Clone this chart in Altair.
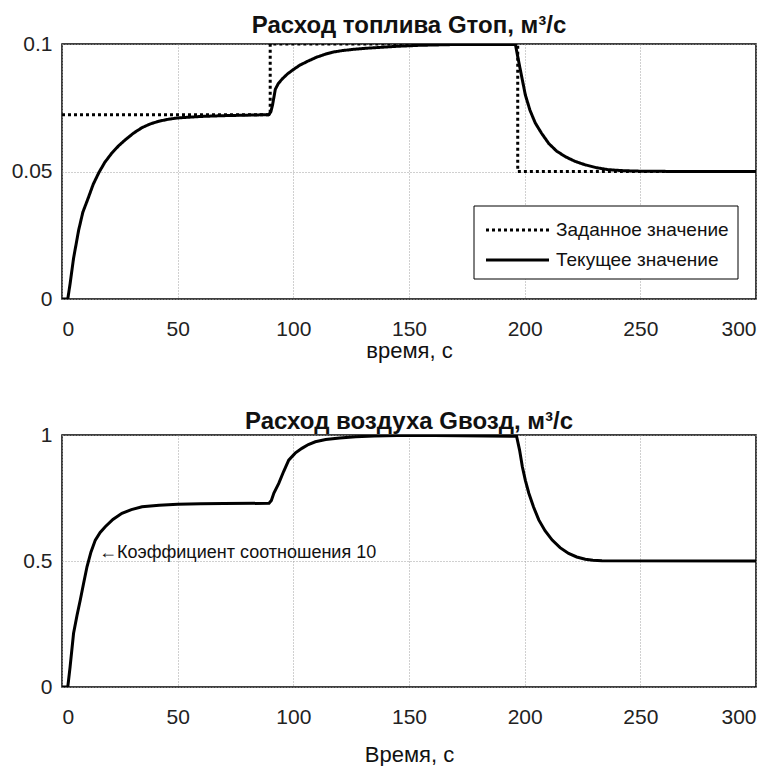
import altair as alt
import pandas as pd

FONT = "Liberation Sans, Arial, sans-serif"

# setpoint (Заданное значение) for fuel flow
t_set = [0, 90, 90, 197, 197, 300]
v_set = [0.0723, 0.0723, 0.1, 0.1, 0.05, 0.05]

# current fuel flow (Текущее значение)
t_fuel = [0, 2.5, 3.5, 5, 7.2, 9, 11.5, 13.5, 15.9, 18.5, 21.6, 24.5, 27.3, 31, 34.6, 38, 41.8, 46, 50,
          55, 60.5, 70, 80, 89.5, 90.3, 91, 92.2, 93.5, 95.1, 97.5, 100.2, 103, 106.6, 110, 113.8, 117,
          121, 126, 131, 138, 145, 155, 170, 196, 196.8, 198.1, 200.3, 202.3, 204.6, 207.3, 210.4,
          213.8, 217.6, 221.7, 226.2, 231, 236.3, 243, 251, 270, 300]
v_fuel = [0, 0, 0.006, 0.016, 0.027, 0.034, 0.040, 0.045, 0.0495, 0.0536, 0.0573, 0.0601, 0.0624, 0.0651,
          0.0672, 0.0686, 0.0697, 0.0705, 0.0710, 0.0713, 0.0716, 0.0719, 0.0721, 0.0723, 0.0735, 0.0760,
          0.0822, 0.0845, 0.0862, 0.0883, 0.0901, 0.0918, 0.0934, 0.0948, 0.0960, 0.0968, 0.0974, 0.0979,
          0.0983, 0.0987, 0.0991, 0.0995, 0.0998, 0.0998, 0.0960, 0.090, 0.080, 0.074, 0.069, 0.065, 0.061,
          0.058, 0.0558, 0.0540, 0.0526, 0.0515, 0.0507, 0.0503, 0.0501, 0.0500, 0.0500]

# air flow (Расход воздуха)
t_air = [0, 2.5, 3.5, 5, 6.5, 7.9, 9.3, 10.8, 12.5, 14.4, 16.5, 18.7, 22, 25.9, 30, 34.6, 42, 50, 60, 70,
         89.5, 90.5, 91.6, 93.7, 95.8, 98, 100.8, 103.7, 106.5, 109.5, 114, 120, 127, 135, 150, 196.5,
         197.8, 199, 200.3, 201.8, 203.8, 206.1, 208.8, 211.9, 215.3, 219, 222.5, 226.2, 229.5, 233.4, 300]
v_air = [0, 0, 0.08, 0.213, 0.285, 0.345, 0.41, 0.477, 0.535, 0.583, 0.613, 0.636, 0.665, 0.689, 0.704,
         0.715, 0.721, 0.725, 0.727, 0.728, 0.729, 0.74, 0.77, 0.808, 0.855, 0.90, 0.928, 0.947, 0.962,
         0.973, 0.982, 0.988, 0.993, 0.996, 0.999, 0.995, 0.94, 0.874, 0.82, 0.769, 0.715, 0.663, 0.62,
         0.583, 0.553, 0.530, 0.516, 0.507, 0.503, 0.501, 0.500]

series_names = ["Заданное значение", "Текущее значение"]
series_dash = [[3, 3], [1, 0]]
x_ticks = [0, 50, 100, 150, 200, 250, 300]
note_text = "←Коэффициент соотношения 10"

df_top = pd.concat([
    pd.DataFrame({"t": t_set, "v": v_set, "s": series_names[0], "i": range(len(t_set))}),
    pd.DataFrame({"t": t_fuel, "v": v_fuel, "s": series_names[1], "i": range(len(t_fuel))}),
])
df_air = pd.DataFrame({"t": t_air, "v": v_air, "i": range(len(t_air))})
df_note = pd.DataFrame({"t": [16], "v": [0.53], "txt": [note_text]})

W, H1, H2 = 694, 255, 252


def xenc(title, pad):
    return alt.X("t:Q", scale=alt.Scale(domain=[0, 300], nice=False),
                 axis=alt.Axis(values=x_ticks, title=title, titlePadding=pad))


lines_top = alt.Chart(df_top).mark_line(clip=True, strokeWidth=3).encode(
    x=xenc("время, с", 1),
    y=alt.Y("v:Q", scale=alt.Scale(domain=[0, 0.1], nice=False),
            axis=alt.Axis(values=[0, 0.05, 0.1], format="~g", title=None)),
    strokeDash=alt.StrokeDash("s:N", scale=alt.Scale(domain=series_names, range=series_dash), legend=None),
    detail="s:N",
    order="i:Q",
    color=alt.value("black"),
)

# legend box (inside the plot, lower right)
one = pd.DataFrame({"a": [0]})
leg_box = alt.Chart(one).mark_rect(fill="white", stroke="black", strokeWidth=1).encode(
    x=alt.value(412), x2=alt.value(676), y=alt.value(162), y2=alt.value(235))
leg_layers = [leg_box]
for k, (name, dash) in enumerate(zip(series_names, series_dash)):
    yy = 186 + 30 * k
    leg_layers.append(alt.Chart(one).mark_rule(strokeWidth=3, strokeDash=dash, color="black").encode(
        x=alt.value(424), x2=alt.value(487), y=alt.value(yy)))
    leg_layers.append(alt.Chart(pd.DataFrame({"txt": [name]})).mark_text(
        align="left", baseline="middle", fontSize=19, font=FONT, color="#111").encode(
        x=alt.value(494), y=alt.value(yy), text="txt:N"))

top = alt.layer(lines_top, *leg_layers).properties(
    width=W, height=H1,
    title=alt.TitleParams("Расход топлива Gтоп, м³/с", fontSize=24, fontWeight="bold",
                          font=FONT, offset=1, dy=6))

bottom_line = alt.Chart(df_air).mark_line(clip=True, strokeWidth=3, color="black").encode(
    x=xenc("Время, с", 17),
    y=alt.Y("v:Q", scale=alt.Scale(domain=[0, 1], nice=False),
            axis=alt.Axis(values=[0, 0.5, 1], format="~g", title=None)),
    order="i:Q",
)
note = alt.Chart(df_note).mark_text(align="left", baseline="middle", fontSize=18, font=FONT,
                                    color="#111").encode(x="t:Q", y="v:Q", text="txt:N")

bottom = alt.layer(bottom_line, note).properties(
    width=W, height=H2,
    title=alt.TitleParams("Расход воздуха Gвозд, м³/с", fontSize=24, fontWeight="bold",
                          font=FONT, offset=4, dy=14))

chart = alt.vconcat(top, bottom, spacing=47).properties(
    padding={"left": 2, "top": 5, "right": 0, "bottom": 0}
).configure_view(stroke="black", strokeWidth=1.5).configure_axis(
    grid=True, gridDash=[1, 2], gridColor="#a0a0a0", gridWidth=1,
    domain=False, ticks=False,
    labelFont=FONT, labelFontSize=21, labelColor="#222", labelPadding=19,
    titleFont=FONT, titleFontSize=22, titleFontWeight="normal", titleColor="#111",
).configure_axisY(labelPadding=10, minExtent=50, maxExtent=50).configure_title(color="#111")

chart.save("out.html", embed_options={"renderer": "svg", "actions": False})
